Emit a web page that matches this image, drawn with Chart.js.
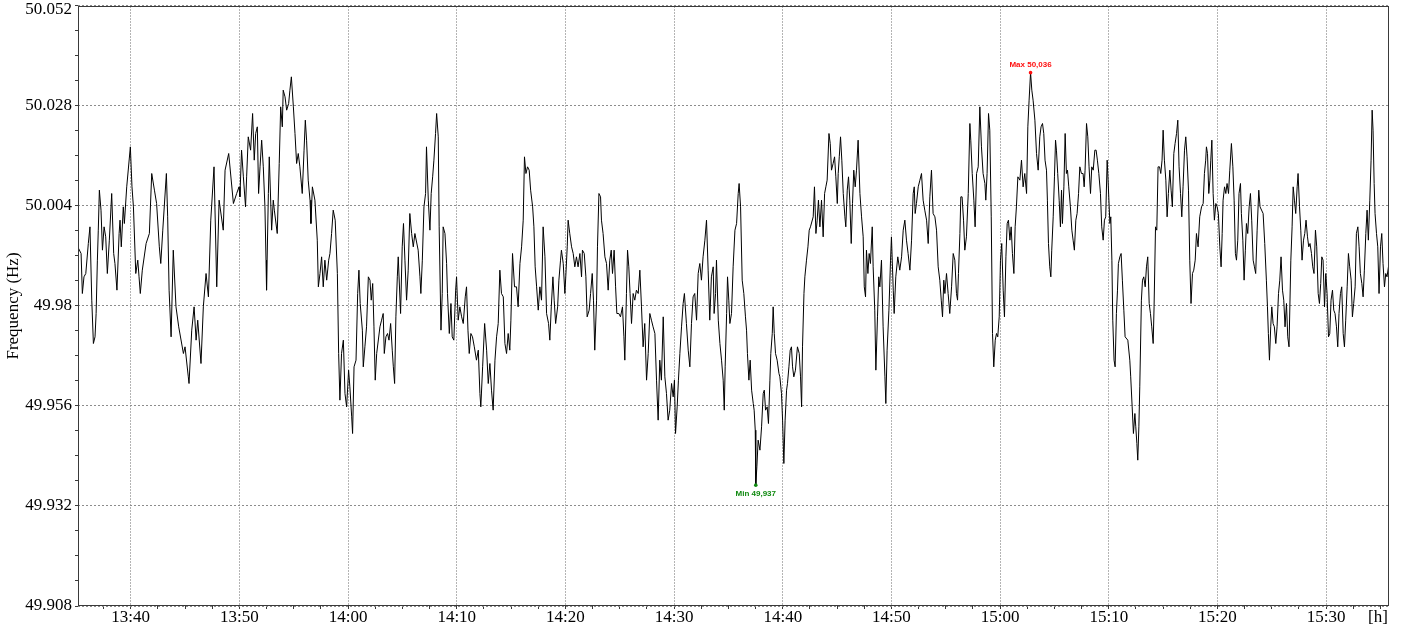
<!DOCTYPE html>
<html>
<head>
<meta charset="utf-8">
<title>Frequency</title>
<script src="https://cdn.jsdelivr.net/npm/chart.js@4/dist/chart.umd.min.js"></script>
<style>
  html, body { margin: 0; padding: 0; background: #fff; overflow: hidden; }
  canvas { display: block; }
</style>
</head>
<body>
<canvas id="freq" width="1402" height="629"></canvas>
<script>
// Grid frequency record: nominal value and the visible time window
const nominalHz = 50;
const recordBase = '13:00:00';
const axisStart = '13:35:09';
const axisEnd = '15:35:47';

// Axis tick labels
const timeTickLabels = ['13:40', '13:50', '14:00', '14:10', '14:20', '14:30', '14:40', '14:50', '15:00', '15:10', '15:20', '15:30'];
const freqTickLabels = ['49.908', '49.932', '49.956', '49.98', '50.004', '50.028', '50.052'];
const yTitle = 'Frequency (Hz)';
const xUnit = '[h]';

// Sample times, seconds after recordBase
const sampleSec = [
  2110,2126,2133,2142,2152,2166,2175,2185,2194,2203,
  2209,2216,2221,2227,2236,2244,2253,2262,2271,2282,
  2295,2306,2313,2324,2336,2341,2348,2359,2365,2378,
  2398,2407,2415,2428,2439,2446,2453,2464,2485,2503,
  2516,2531,2543,2558,2566,2577,2597,2604,2612,2623,
  2635,2650,2665,2691,2700,2718,2722,2737,2750,2761,
  2770,2788,2801,2816,2829,2842,2860,2875,2888,2911,
  2921,2941,2967,2985,2998,
  3003,3012,3022,3034,3040,3049,3062,3073,3082,3090,
  3099,3106,3114,3123,3132,3141,3147,3150,3160,3165,
  3178,3187,3193,3209,3220,3228,3237,3242,3252,3261,
  3272,3279,3287,3298,3307,3316,3325,3334,3347,3357,
  3364,3371,3380,3390,3395,3403,3417,3430,3436,3445,
  3454,3463,3472,3482,3493,3500,3509,3518,3529,3541,
  3548,3555,3564,3574,3583,3592,3603,3610,3620,3625,
  3633,3644,3653,3660,3667,3679,3684,3693,3702,3712,
  3721,3728,3736,3743,3750,3758,3776,3785,3794,3800,
  3809,3818,3826,3835,3844,3850,3857,3864,3872,3877,
  3890,3899,3906,3914,3923,3932,3941,3951,3960,3969,
  3987,3997,4002,4010,4019,4028,4033,4043,4052,4059,
  4067,4074,4083,4089,4098,4103,4113,4120,4125,4135,
  4144,4149,4159,4168,4175,4184,4194,4199,4208,4217,
  4227,4236,4247,4254,4262,4269,4278,4287,4297,4309,
  4319,4328,4333,4343,4354,4365,4374,4383,4392,4401,
  4411,4420,4429,4438,4447,4457,4466,4475,4484,4493,
  4499,4508,4519,4530,4539,4549,4558,4567,4574,4582,
  4591,4600,4608,4619,4626,4633,4641,4650,4659,4668,
  4677,4687,4696,4707,4714,4722,4731,4738,4746,4757,
  4764,4773,4778,4788,4797,4802,4810,4815,4824,4834,
  4843,4852,4861,4870,4880,4889,4894,4904,4913,4920,
  4931,4939,4948,4955,4962,4972,4977,4985,4994,4999,
  5008,5018,5027,5036,5045,5053,5060,5069,5077,5084,
  5095,5104,5115,5123,5128,5137,5143,5150,5157,5165,
  5174,5183,5192,5202,5211,5220,5229,5238,5248,5257,
  5266,5275,5284,5294,5303,5312,5321,5330,5340,5349,
  5358,5367,5376,5386,5395,5402,5408,5417,5424,5432,
  5441,5450,5457,5468,5478,5487,5496,5505,5514,5524,
  5533,5542,5551,5560,5570,5579,5588,5597,5606,5616,
  5621,5629,5634,
  5644,5653,5662,5671,5677,5682,5690,5695,5702,5708,
  5717,5726,5736,5745,5754,5759,5767,5776,5785,5794,
  5800,5805,5813,5820,5828,5837,5842,5848,5851,5857,
  5864,5874,5883,5892,5898,5905,5914,5921,5929,5934,
  5942,5947,5953,5960,5969,5979,5984,5993,5999,6006,
  6013,6021,6026,6034,6041,6048,6054,6061,6070,6081,
  6091,6098,6104,6109,6117,6122,6131,6139,6146,6153,
  6168,6175,6183,6190,6197,6205,6214,6223,6231,6238,
  6245,6255,6262,6269,6278,6286,6293,6301,6306,6312,
  6319,6326,6334,6343,6348,6356,6363,6370,6378,6385,
  6392,6400,6407,6416,6426,6435,6444,6450,6457,6462,
  6470,6477,6484,6494,6499,6508,6514,6523,
  6530,6536,6545,6554,6564,6569,6576,6586,6595,6600,
  6610,6615,6624,6635,6646,6656,6665,6674,6683,6692,
  6702,6711,6720,6726,6731,6738,6748,6757,6766,6775,
  6784,6794,6803,6812,6821,6830,6840,6849,6858,6867,
  6875,6882,6889,6895,6904,6913,6922,6932,6941,6950,
  6959,6965,6970,6978,6983,6990,6998,7005,7014,7024,
  7033,7038,7046,7055,7062,7070,7079,7088,7097,7106,
  7116,7121,7128,7136,7143,7151,7158,7165,7173,7180,
  7187,7195,7202,7209,7217,7224,7232,7239,7246,7254,
  7261,7268,7276,7283,7290,7298,7309,7318,7327,7336,
  7346,7353,7360,7368,7375,7382,7392,7401,7410,
  7419,7426,7434,7441,7448,7456,7461,7467,7474,7480,
  7485,7493,7500,7506,7511,7518,7526,7533,7539,7544,
  7552,7559,7566,7572,7579,7588,7596,7603,7610,7618,
  7625,7633,7640,7649,7658,7664,7669,7677,7684,7691,
  7699,7706,7714,7723,7730,7737,7745,7754,7761,7769,
  7776,7783,7791,7796,7806,7811,7817,7822,7829,7835,
  7842,7848,7853,7861,7868,7875,7883,7890,7905,7916,
  7921,7929,7936,7944,7949,7955,7960,7966,7971,7980,
  7986,7993,8001,8008,8015,8023,8030,8037,8045,8050,
  8058,8065,8072,8080,8087,8094,8100,8107,8115,8122,
  8129,8137,8144,8151,8159,8166,8174,8181,8188,8196,
  8203,8210,8218,8225,8232,8240,8247,8254,8262,8269,
  8277,8284,8293,
  8302,8312,8321,8328,8335,8339,8345,8352,8358,8363,
  8369,8376,8383,8391,8398,8405,8413,8420,8426,8431,
  8439,8446,8453,8461,8468,8477,8485,8492,8499,8505,
  8512,8519,8527,8532,8540,8547,8554,8560,8567,8575,
  8582,8589,8597,8604,8611,8619,8628,8635,8652,8661,
  8670,8676,8681,8687,8694,8700,8707,8714,8722,8729,
  8737,8744,8751,8759,8766,8773,8781,8788,8795,8805,
  8812,8818,8825,8832,8840,8845,8853,8860,8867,8875,
  8882,8889,8897,8904,8911,8919,8926,8933,8941,8948,
  8956,8963,8970,8976,8983,8991,8998,9005,9013,9020,
  9027,9035,9042,9049,9057,9064,9071,9079,9086,9094,
  9101,9108,9116,9123,9130,9138,9145,9152,9160,9167,
  9175,9182,9189,9197,9204,9211,9219,9226,9233,9241,
  9248,9254,9259,9265,9270,9278,9285,9292,9300,9307,
  9314,9322,9329,9336,9344
];

// Deviation from nominal frequency at each sample, in mHz
const deviationMilliHz = [
  -6.0,-7.4,-17.0,-13.0,-12.2,-5.0,-1.0,-18.6,-29.0,-27.4,
  -21.8,-9.0,-1.8,7.8,3.0,-6.6,-1.0,-3.4,-12.2,-4.2,
  7.0,-7.4,-9.8,-16.2,-2.6,0.6,-5.8,3.8,-0.2,8.6,
  18.2,8.6,3.8,-12.2,-9.0,-13.0,-17.0,-11.4,-5.0,-2.6,
  11.8,7.8,4.6,-5.8,-9.8,-1.8,11.8,1.4,-16.2,-27.4,
  -6.6,-20.2,-25.0,-31.4,-29.8,-37.0,-38.6,-25.8,-20.2,-28.2,
  -23.4,-33.8,-20.2,-12.2,-17.8,0.6,13.4,-15.4,5.4,-1.8,
  12.6,16.6,4.6,7.0,8.6,
  6.2,17.4,11.0,3.8,11.0,20.6,17.4,26.2,15.0,21.4,
  23.0,7.0,13.4,19.8,13.4,3.8,-9.0,-16.2,7.0,15.8,
  -1.8,5.4,3.0,-2.6,14.2,27.8,23.0,31.8,30.2,27.0,
  28.6,31.8,35.0,27.8,21.4,14.2,16.6,13.4,7.0,17.4,
  24.6,19.8,10.2,5.4,-0.2,8.6,5.4,-4.2,-15.4,-12.2,
  -8.2,-15.4,-9.0,-13.8,-9.0,-7.4,-2.6,3.0,0.6,-12.2,
  -31.4,-42.6,-31.4,-28.2,-41.0,-44.2,-35.4,-39.4,-46.6,-50.6,
  -34.6,-33.0,-17.0,-11.4,-19.4,-25.8,-34.6,-29.8,-25.0,-13.0,
  -13.8,-18.6,-14.6,-25.0,-37.8,-31.4,-25.0,-23.4,-21.8,-31.4,
  -27.4,-26.6,-28.2,-24.2,-30.6,-34.6,-38.6,-22.6,-13.0,-8.2,
  -21.8,-5.8,-0.2,-9.0,-18.6,-11.4,2.2,-2.6,-5.8,-2.6,
  -6.6,-13.0,-17.0,-9.0,3.8,7.0,18.2,5.4,-1.8,7.0,
  11.0,15.0,21.4,26.2,20.6,-1.0,-25.8,-17.0,-1.0,-2.6,
  -9.8,-17.0,-26.6,-19.4,-27.4,-28.2,-16.2,-13.0,-23.4,-20.2,
  -22.6,-24.2,-17.8,-15.4,-25.8,-31.4,-26.6,-27.4,-29.8,-33.0,
  -30.6,-41.0,-44.2,-34.6,-24.2,-30.6,-38.6,-33.8,-40.2,-45.0,
  -33.0,-27.4,-24.2,-11.4,-17.0,-17.8,-29.0,-31.4,-26.6,-30.6,
  -23.4,-7.4,-15.4,-15.4,-20.2,-9.8,-5.8,0.6,15.8,11.8,
  13.4,12.6,7.8,3.8,-1.0,-10.6,-15.4,-21.0,-15.4,-18.6,
  -1.0,-8.2,-21.8,-24.2,-28.2,-20.2,-13.0,-18.6,-24.2,-20.2,
  -13.8,-9.0,-6.6,-9.8,-17.0,-13.0,-5.8,0.6,-2.6,-5.8,
  -7.4,-10.6,-8.2,-10.6,-7.4,-13.0,-6.6,-7.4,-13.0,-22.6,
  -21.0,-17.0,-12.2,-18.6,-30.6,-18.6,-5.8,7.0,6.2,0.6,
  -2.6,-8.2,-9.8,-16.2,-9.0,-6.6,-12.2,-6.6,-15.4,-21.8,
  -21.8,-22.6,-20.2,-27.4,-33.0,-17.0,-6.6,-10.6,-17.0,-24.2,
  -17.0,-18.6,-16.2,-17.0,-11.4,-20.2,-29.8,-24.2,-37.8,-31.4,
  -21.8,-23.4,-25.0,-26.6,-37.8,-47.4,-33.0,-37.8,-22.6,-37.0,
  -41.0,-47.4,-45.0,-38.6,-41.8,-37.8,-50.6,-44.2,-37.8,-31.4,
  -25.0,-19.4,-17.0,-24.2,-30.6,-34.6,-24.2,-17.8,-17.0,-23.4,
  -12.2,-9.8,-13.8,-8.2,-4.2,0.6,-11.4,-23.4,-13.0,-10.6,
  -21.8,-17.0,-9.0,
  -23.4,-29.0,-33.0,-37.8,-45.0,-34.6,-21.8,-13.0,-18.6,-24.2,
  -21.8,-10.6,-1.8,-0.2,7.0,9.4,3.8,-13.8,-17.0,-22.6,
  -25.8,-31.4,-37.8,-33.0,-40.2,-43.4,-45.0,-49.8,-63.0,-58.6,
  -52.2,-54.6,-49.0,-41.0,-40.2,-45.0,-44.2,-48.2,-37.8,-31.4,
  -26.6,-20.2,-26.6,-31.4,-33.0,-36.2,-37.0,-41.0,-47.4,-57.8,
  -47.4,-40.2,-38.6,-34.6,-30.6,-29.8,-34.6,-37.0,-35.4,-29.8,
  -31.4,-37.0,-44.2,-29.8,-17.0,-13.0,-9.0,-5.8,-1.8,-1.0,
  1.4,8.6,-2.6,0.6,5.4,-1.0,5.4,-3.4,7.0,8.6,
  10.2,21.4,19.0,12.6,14.2,15.8,11.0,4.6,11.8,15.8,
  20.6,15.0,7.0,1.4,-1.0,7.8,11.0,5.4,-5.0,4.6,
  12.6,8.6,12.6,19.8,7.0,1.4,-3.4,-15.4,-17.8,-6.6,
  -12.2,-7.4,-9.8,-1.0,-10.6,-21.0,-35.4,-22.6,
  -13.0,-15.4,-9.0,-25.0,-37.0,-43.4,-30.6,-21.0,-9.0,-3.4,
  -16.2,-21.8,-13.0,-8.2,-11.4,-8.2,-1.8,0.6,-4.2,-7.4,
  -11.4,-4.2,7.0,8.6,2.2,4.6,8.6,10.2,11.8,5.4,
  3.0,0.6,-5.0,6.2,12.6,2.2,1.4,-1.8,-10.6,-13.8,
  -18.6,-22.6,-13.8,-17.0,-12.2,-17.0,-21.8,-15.4,-7.4,-9.0,
  -17.0,-18.6,-12.2,-2.6,6.2,6.2,0.6,-6.6,-3.4,7.0,
  23.8,19.8,11.8,5.4,-1.0,11.8,13.4,27.8,18.2,11.8,
  9.4,5.4,11.8,26.2,22.2,1.4,-26.6,-34.6,-28.2,-26.6,
  -27.4,-22.6,-9.0,-5.0,-16.2,-22.6,-8.2,-0.2,0.6,-4.2,
  -1.0,-7.4,-12.2,-1.0,3.8,11.0,10.2,15.0,8.6,11.8,
  7.0,23.0,29.4,36.0,31.8,29.4,24.6,16.6,12.6,
  20.6,23.0,23.8,21.4,15.0,12.6,5.4,-5.0,-10.6,-13.0,
  -6.6,1.4,11.0,19.8,17.4,11.8,5.4,-1.0,7.8,-0.2,
  8.6,21.4,11.8,12.6,8.6,3.8,-1.8,-4.2,-6.6,0.6,
  2.2,7.0,13.4,11.8,11.8,8.6,12.6,23.8,20.6,13.4,
  7.0,13.4,12.6,17.4,17.4,15.0,11.8,7.0,-1.0,-4.2,
  0.6,1.4,15.0,10.2,-0.2,1.4,-9.0,-23.4,-33.0,-34.6,
  -21.8,-16.2,-9.8,-8.2,-7.4,-13.8,-21.0,-27.4,-28.2,-33.0,
  -37.0,-44.2,-50.6,-45.8,-49.0,-53.0,-57.0,-49.0,-39.4,-18.6,
  -13.8,-13.0,-15.4,-10.6,-8.2,-19.4,-21.8,-25.0,-29.0,-20.2,
  -1.0,-1.8,13.4,13.4,11.8,15.0,22.2,15.0,10.2,1.4,
  7.0,12.6,7.8,3.8,16.6,19.0,21.4,24.6,13.4,7.0,
  1.4,8.6,17.4,20.6,15.8,7.8,-9.0,-19.4,-12.2,-11.4,
  -9.0,-2.6,-5.8,
  1.4,3.8,4.6,11.8,15.0,18.2,16.6,7.0,10.2,15.0,
  19.8,7.0,0.6,4.6,3.8,2.2,-5.8,-10.6,-2.6,5.4,
  8.6,7.0,9.4,7.0,12.6,19.0,13.4,5.4,-7.4,-9.0,
  -4.2,7.0,9.4,2.2,-4.2,-13.8,-6.6,-0.2,-2.6,3.8,
  7.0,0.6,-9.0,-10.6,-12.2,-1.8,7.8,3.8,2.2,-5.0,
  -13.8,-20.2,-26.6,-33.0,-25.0,-20.2,-24.2,-25.0,-29.0,-25.0,
  -17.0,-13.8,-8.2,-16.2,-18.6,-25.0,-19.4,-27.4,-29.8,-9.0,
  -1.0,8.6,5.4,2.2,8.6,11.8,3.8,-1.8,-9.0,-4.2,
  -2.6,0.6,-3.4,-5.8,-5.0,-7.4,-10.6,-12.2,-1.8,-5.8,
  -17.0,-19.4,-14.6,-8.2,-9.0,-20.2,-12.2,-17.0,-27.4,-26.6,
  -18.6,-16.2,-21.0,-21.8,-25.0,-29.8,-21.8,-17.0,-15.4,-26.6,
  -29.8,-23.4,-15.4,-7.4,-10.6,-13.8,-22.6,-19.4,-15.4,-2.6,
  -1.0,-5.8,-12.2,-14.6,-17.8,-11.4,-2.6,3.0,-4.2,5.4,
  15.0,27.0,22.2,9.4,2.2,-2.6,-5.8,-17.0,-5.8,-2.6,
  -9.8,-15.4,-12.2,-13.0,-10.6
];

if (sampleSec.length !== deviationMilliHz.length) {
  throw new Error('sample arrays differ in length: ' + sampleSec.length + ' vs ' + deviationMilliHz.length);
}

const clockSec = s => { const [h, m, sec = 0] = s.split(':').map(Number); return h * 3600 + m * 60 + sec; };
const baseSec = clockSec(recordBase);
const series = sampleSec.map((t, i) => ({ x: baseSec + t, y: nominalHz + deviationMilliHz[i] / 1000 }));

// Major ticks carry labels and grid lines; minor ticks only get a short mark
function tickSet(majors, divisions, lo, hi) {
  const step = (majors[1] - majors[0]) / divisions;
  const out = [];
  let k = Math.ceil((lo - majors[0]) / step - 1e-6);
  for (let v = majors[0] + k * step; v <= hi + step * 1e-6; v = majors[0] + (++k) * step) out.push(v);
  return out;
}
const xMajors = timeTickLabels.map(clockSec);
const yMajors = freqTickLabels.map(Number);
const xMin = clockSec(axisStart), xMax = clockSec(axisEnd);
const yMin = Math.min(...yMajors), yMax = Math.max(...yMajors);
const xTicks = tickSet(xMajors, 4, xMin, xMax);
const yTicks = tickSet(yMajors, 4, yMin, yMax);

const labelOf = (majors, labels, v, tol) => {
  const i = majors.findIndex(m => Math.abs(m - v) < tol);
  return i < 0 ? null : labels[i];
};
const xLabel = v => labelOf(xMajors, timeTickLabels, v, 1);
const yLabel = v => labelOf(yMajors, freqTickLabels, v, 1e-6);

const serif = '"Liberation Serif", "Times New Roman", serif';

const frameAndNotes = {
  id: 'frameAndNotes',
  afterDraw(chart) {
    const { ctx, chartArea: a, scales } = chart;
    ctx.save();
    // plot frame
    ctx.strokeStyle = '#3a3a3a';
    ctx.lineWidth = 1;
    ctx.strokeRect(a.left + 0.5, a.top + 0.5, a.right - a.left - 1, a.bottom - a.top - 1);

    // frequency tick labels, kept inside the canvas at the top edge
    ctx.fillStyle = '#000';
    ctx.font = '17px ' + serif;
    ctx.textAlign = 'right';
    ctx.textBaseline = 'middle';
    yMajors.forEach((v, i) => {
      const py = Math.max(scales.y.getPixelForValue(v), 10);
      ctx.fillText(freqTickLabels[i], a.left - 6, py);
    });

    // axis title and unit
    ctx.textAlign = 'center';
    ctx.save();
    ctx.translate(14, (a.top + a.bottom) / 2);
    ctx.rotate(-Math.PI / 2);
    ctx.fillText(yTitle, 0, 0);
    ctx.restore();
    ctx.fillText(xUnit, a.right - 11, a.bottom + 12);

    // extremes
    let iMax = 0, iMin = 0;
    deviationMilliHz.forEach((d, i) => {
      if (d > deviationMilliHz[iMax]) iMax = i;
      if (d < deviationMilliHz[iMin]) iMin = i;
    });
    const marks = [
      { p: series[iMax], name: 'Max', color: '#ff1010', dy: -8 },
      { p: series[iMin], name: 'Min', color: '#108a10', dy: 9 }
    ];
    ctx.font = 'bold 8px "Liberation Sans", Arial, sans-serif';
    marks.forEach(m => {
      const px = scales.x.getPixelForValue(m.p.x);
      const py = scales.y.getPixelForValue(m.p.y);
      ctx.fillStyle = m.color;
      ctx.beginPath();
      ctx.arc(px, py, 1.8, 0, Math.PI * 2);
      ctx.fill();
      ctx.fillText(m.name + ' ' + m.p.y.toFixed(3).replace('.', ','), px, py + m.dy);
    });
    ctx.restore();
  }
};

new Chart(document.getElementById('freq'), {
  type: 'line',
  data: {
    datasets: [{
      data: series,
      borderColor: '#000',
      borderWidth: 1,
      pointRadius: 0,
      tension: 0,
      fill: false
    }]
  },
  options: {
    responsive: false,
    animation: false,
    devicePixelRatio: 1,
    layout: { padding: { top: 6, right: 13, left: 0, bottom: 0 } },
    plugins: { legend: { display: false }, tooltip: { enabled: false } },
    scales: {
      x: {
        type: 'linear',
        min: xMin,
        max: xMax,
        afterBuildTicks: s => { s.ticks = xTicks.map(v => ({ value: v })); },
        afterFit: s => { s.height = 23; s.paddingLeft = 0; s.paddingRight = 0; },
        ticks: {
          autoSkip: false,
          maxRotation: 0,
          padding: 0,
          color: '#000',
          font: { family: serif, size: 17, lineHeight: 1 },
          callback: v => xLabel(v) || ''
        },
        grid: {
          color: c => (c.tick && xLabel(c.tick.value)) ? '#b4b4b4' : 'rgba(0,0,0,0)',
          tickColor: '#3a3a3a',
          tickLength: 3
        },
        border: { display: false, dash: [2, 1] }
      },
      y: {
        type: 'linear',
        min: yMin,
        max: yMax,
        afterBuildTicks: s => { s.ticks = yTicks.map(v => ({ value: v })); },
        afterFit: s => { s.width = 78; s.paddingTop = 0; s.paddingBottom = 0; },
        ticks: {
          display: false,
          autoSkip: false
        },
        grid: {
          color: c => (c.tick && yLabel(c.tick.value)) ? '#8c8c8c' : 'rgba(0,0,0,0)',
          tickColor: '#3a3a3a',
          tickLength: 3
        },
        border: { display: false, dash: [2, 2] }
      }
    }
  },
  plugins: [frameAndNotes]
});
</script>
</body>
</html>
